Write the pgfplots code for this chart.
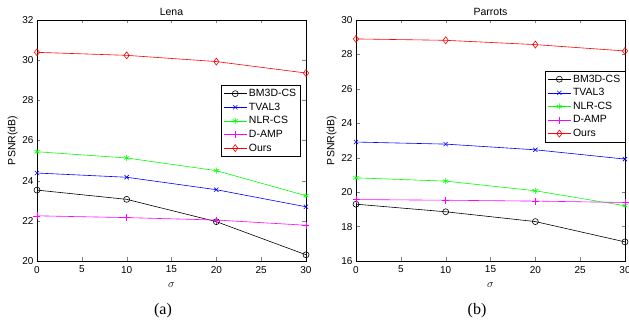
\documentclass[border=0pt]{standalone}
\usepackage{pgfplots}
\pgfplotsset{compat=1.18}
\usepackage{fontspec}
\setmainfont{Liberation Sans}
\newfontfamily\seriffont{Liberation Serif}
\definecolor{mgreen}{rgb}{0,1,0}
\definecolor{mmag}{rgb}{1,0,1}
\pgfplotsset{
  myax/.style={
    scale only axis, width=269pt, height=241pt,
    xmin=0, xmax=30, xtick={0,5,...,30},
    tick align=inside, tick pos=both,
    major tick length=3.5pt,
    tick label style={font=\fontsize{10}{12}\selectfont},
    xticklabel style={yshift=-1.5pt},
    label style={font=\fontsize{10.5}{12}\selectfont},
    title style={font=\fontsize{10.5}{12}\selectfont, yshift=-5pt},
    /pgf/number format/assume math mode=true,
    xlabel={$\sigma$}, ylabel={PSNR(dB)},
    xlabel style={yshift=-3pt},
    ylabel style={yshift=-2pt},
    legend style={font=\fontsize{10.5}{12}\selectfont, draw=black, line width=0.4pt,
      inner xsep=2.5pt, inner ysep=2pt, row sep=0.8pt,
      cells={anchor=west}},
    legend image code/.code={
      \draw[mark repeat=2,mark phase=2] plot coordinates {(0cm,0cm) (0.4cm,0cm) (0.8cm,0cm)};},
    every axis plot/.append style={line width=0.6pt, mark size=3pt},
    axis line style={line width=0.5pt},
  },
  bm/.style={black, mark=o},
  tv/.style={blue, mark=x},
  nl/.style={mgreen, mark=asterisk},
  da/.style={mmag, mark=+, mark size=3.5pt},
  ou/.style={red, mark=diamond, mark size=3.5pt},
}
\begin{document}
\begin{tikzpicture}
\begin{axis}[myax, at={(0pt,0pt)}, ymin=20, ymax=32, ytick={20,22,...,32}, title={Lena},
  legend style={at={(0.981,0.73)}, anchor=north east}]
\addplot[bm] coordinates {(0,23.53) (10,23.07) (20,21.96) (30,20.31)};
\addlegendentry{BM3D-CS}
\addplot[tv] coordinates {(0,24.38) (10,24.17) (20,23.55) (30,22.70)};
\addlegendentry{TVAL3}
\addplot[nl] coordinates {(0,25.44) (10,25.13) (20,24.50) (30,23.25)};
\addlegendentry{NLR-CS}
\addplot[da] coordinates {(0,22.25) (10,22.16) (20,22.04) (30,21.78)};
\addlegendentry{D-AMP}
\addplot[ou] coordinates {(0,30.39) (10,30.24) (20,29.93) (30,29.36)};
\addlegendentry{Ours}
\end{axis}
\begin{axis}[myax, at={(319pt,0pt)}, ymin=16, ymax=30, ytick={16,18,...,30}, title={Parrots},
  legend style={at={(1.0,0.79)}, anchor=north east}]
\addplot[bm] coordinates {(0,19.30) (10,18.86) (20,18.29) (30,17.11)};
\addlegendentry{BM3D-CS}
\addplot[tv] coordinates {(0,22.91) (10,22.79) (20,22.46) (30,21.92)};
\addlegendentry{TVAL3}
\addplot[nl] coordinates {(0,20.83) (10,20.64) (20,20.08) (30,19.21)};
\addlegendentry{NLR-CS}
\addplot[da] coordinates {(0,19.57) (10,19.53) (20,19.48) (30,19.40)};
\addlegendentry{D-AMP}
\addplot[ou] coordinates {(0,28.90) (10,28.82) (20,28.57) (30,28.20)};
\addlegendentry{Ours}
\end{axis}
\node[font=\seriffont\fontsize{16}{18}\selectfont] at (126pt,-50pt) {(a)};
\node[font=\seriffont\fontsize{16}{18}\selectfont] at (440pt,-50pt) {(b)};
\pgfresetboundingbox
\path[use as bounding box] (-37pt,-70pt) rectangle (592pt,261pt);
\end{tikzpicture}
\end{document}
